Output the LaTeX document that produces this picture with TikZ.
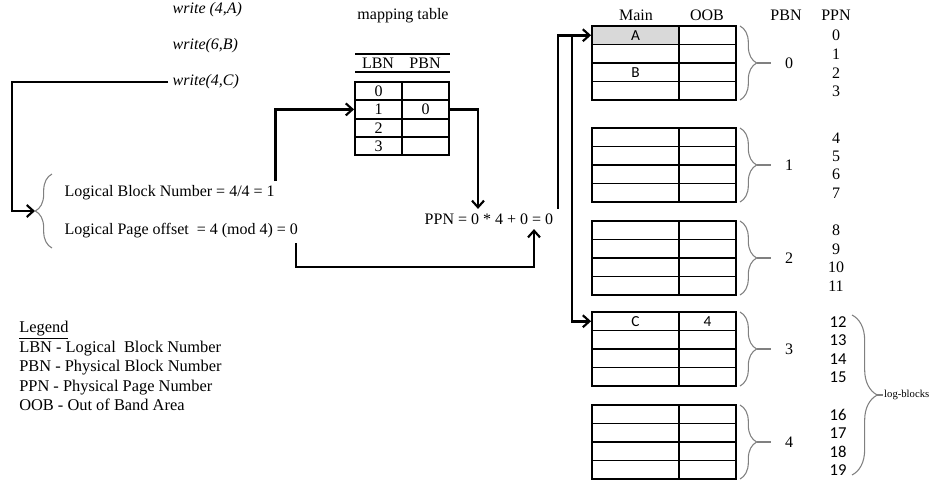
\documentclass[tikz,border=0pt]{standalone}
\usepackage{fontspec}
\setmainfont{Liberation Serif}
\newfontfamily\calib{Carlito}
\usetikzlibrary{arrows.meta,decorations.pathreplacing}

\begin{document}
\begin{tikzpicture}[x=0.75pt,y=-0.75pt,font=\fontsize{12}{14}\selectfont\rmfamily,every node/.style={text=black},
    link/.style={black, line width=2pt, -{Straight Barb[length=5pt,width=9pt,line width=1.6pt]}},
    mapcell/.style={draw, line width=1.4pt, minimum width=35.25pt, minimum height=13.8pt, inner sep=0pt},
    maincell/.style={draw, line width=1.4pt, minimum width=65.25pt, minimum height=13.9pt, inner sep=0pt},
    oobcell/.style={draw, line width=1.4pt, minimum width=42.75pt, minimum height=13.9pt, inner sep=0pt},
    celltxt/.style={font=\calib\fontsize{11.5}{12}\selectfont},
    brc/.style={gray, line width=0.8pt, decorate, decoration={brace, amplitude=12.5pt}}]
    \useasboundingbox (0,0) rectangle (933,483);

    % write requests
    \node[anchor=west] (wa) at (168,10) {\textit{write (4,A)}};
    \node[anchor=west] (wb) at (168,46) {\textit{write(6,B)}};
    \node[anchor=west] (wc) at (168,82) {\textit{write(4,C)}};

    % address split
    \node[anchor=west] (blocknum) at (60,193) {Logical Block Number = 4/4 = 1};
    \node[anchor=west] (pageoff) at (60,231) {Logical Page offset\ \ = 4 (mod 4) = 0};
    \draw[brc] (52,248) -- (52,174);
    \coordinate (split) at (35,211);
    \draw[link] (wc.west) -| ++(-156,129) -- (split);

    % mapping table
    \node (maptitle) at (403,16) {mapping table};
    \node (lbnhd) at (378,63) {LBN};
    \node (pbnhd) at (425,63) {PBN};
    \draw[line width=1.4pt] (355,54) -- (450,54);
    \draw[line width=1.4pt] (355,72) -- (450,72);
    \foreach \r in {0,...,3} {
      \node[mapcell] (tl\r) at (378.5,91+18.4*\r) {\r};
      \node[mapcell] (tp\r) at (425.5,91+18.4*\r) {};
    }
    \node (pbnval) at (tp1) {0};

    % physical page number
    \node[anchor=west] (ppn) at (420,219) {PPN = 0 * 4 + 0 = 0};
    \coordinate (down) at (478,0);
    \coordinate (up) at (534,0);
    \coordinate (rise) at (558,0);
    \coordinate (branch) at (572,0);

    % physical blocks
    \node (mainhd) at (636,15) {Main};
    \node (oobhd) at (707,15) {OOB};
    \node (pbnhd2) at (786,15) {PBN};
    \node (ppnhd) at (836,15) {PPN};
    \foreach \b/\t in {0/26,1/128,2/221,3/312,4/405} {
      \foreach \r in {0,...,3} {
        \node[maincell] (m\b\r) at (635.5,\t+9.25+18.5*\r) {};
        \node[oobcell] (o\b\r) at (707.5,\t+9.25+18.5*\r) {};
      }
      \draw[brc] (740,\t) -- (740,\t+74);
      \coordinate (tip\b) at (756.5,\t+37);
      \draw[gray, line width=0.8pt] (tip\b) -- ++(14,0);
      \node (pb\b) at (789,\t+37) {\b};
    }
    \node[maincell, fill=black!15, celltxt] (cella) at (m00) {A};
    \node[celltxt] (cellb) at (m02) {B};
    \node[celltxt] (cellc) at (m30) {C};
    \node[celltxt] (cell4) at (o30) {4};

    % page numbers
    \foreach \b/\t in {0/26,1/128,2/221} {
      \foreach \r in {0,...,3} {
        \pgfmathtruncatemacro\pg{4*\b+\r}
        \node (pg\pg) at (836,\t+9.75+18.5*\r) {\pg};
      }
    }
    \foreach \b/\t in {3/312,4/405} {
      \foreach \r in {0,...,3} {
        \pgfmathtruncatemacro\pg{4*\b+\r}
        \node[font=\calib\fontsize{12.5}{13}\selectfont] (pg\pg) at (838,\t+9.75+18.5*\r) {\pg};
      }
    }
    \draw[brc, decoration={brace, amplitude=19pt}] (852,315) -- (852,475);
    \coordinate (logtip) at (877,395);
    \draw[gray, line width=0.8pt] (logtip) -- ++(6,0) node[anchor=west, inner sep=0.5pt, font=\fontsize{8}{9}\selectfont] (logb) {log-blocks};

    % connectors
    \draw[link] ([xshift=-3pt]blocknum.north east) |- (tl1.west);
    \draw[link] (tp1.east) -| (down |- ppn.north);
    \draw[link] ([xshift=-5pt]pageoff.south east) -- ++(0,24) -| (up |- ppn.south);
    \draw[link] (rise |- ppn.north) |- (m00.west);
    \draw[link] (branch |- m00.west) |- (m30.west);

    % legend
    \node[anchor=north west, align=left, inner sep=0pt, font=\fontsize{12.3}{14.6}\selectfont] (legend) at (19,321)
      {\underline{Legend}\\LBN - Logical\ \ Block Number\\PBN - Physical Block Number\\PPN - Physical Page Number\\OOB - Out of Band Area};
  \end{tikzpicture}
\end{document}
